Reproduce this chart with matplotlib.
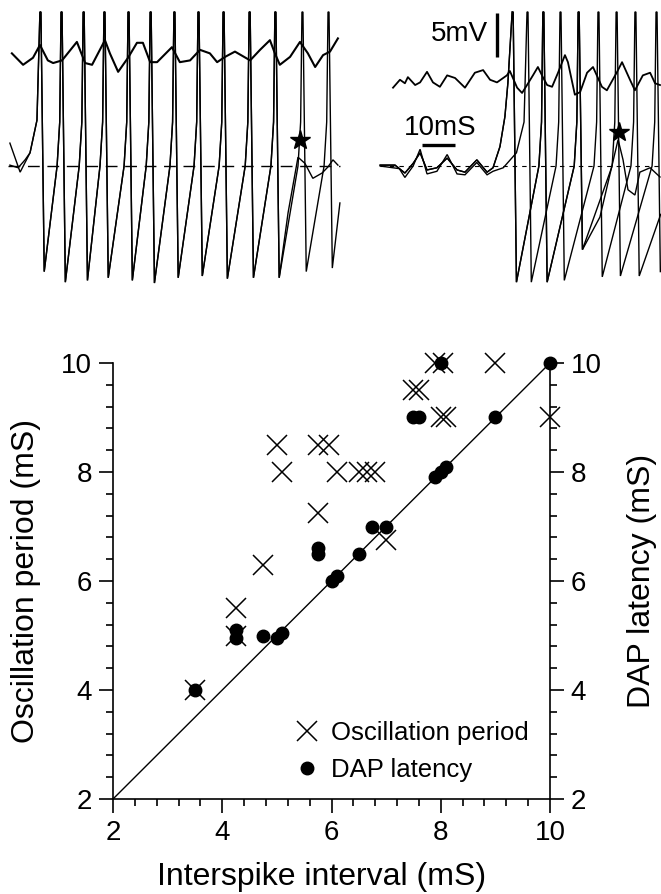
import matplotlib
matplotlib.use('Agg')
import matplotlib.pyplot as plt
from matplotlib.ticker import MultipleLocator
from matplotlib.lines import Line2D

plt.rcParams['font.family'] = ['Liberation Sans', 'DejaVu Sans']

# ---- scatter data (mS) ----
osc_isi = [3.5, 4.25, 4.25, 4.75, 5.0, 5.1, 5.75, 5.75, 5.95, 6.1, 6.5, 6.65, 6.8,
           7.0, 7.5, 7.6, 7.9, 8.05, 8.0, 8.1, 9.0, 10.0]
osc_period = [4.0, 5.5, 5.0, 6.3, 8.5, 8.0, 7.25, 8.5, 8.5, 8.0, 8.0, 8.0, 8.0,
              6.75, 9.5, 9.5, 10.0, 10.0, 9.0, 9.0, 10.0, 9.0]
dap_isi = [3.5, 4.25, 4.25, 4.75, 5.0, 5.1, 5.75, 5.75, 6.0, 6.1, 6.5, 6.75, 7.0,
           7.5, 7.6, 7.9, 8.0, 8.1, 8.0, 9.0, 10.0]
dap_latency = [4.0, 4.95, 5.1, 5.0, 4.95, 5.05, 6.5, 6.6, 6.0, 6.1, 6.5, 7.0, 7.0,
               9.0, 9.0, 7.9, 8.0, 8.1, 10.0, 9.0, 10.0]
identity = [2, 10]

# ---- traces (time in ms, voltage in mV relative to dashed line) ----
SPIKE_TOP = 17.5
left_spikes = [12.1, 18.5, 25.2, 31.5, 38.8, 45.5, 52.7, 60.0, 67.6, 75.5, 83.3, 91.5, 99.4]
left_troughs = [-12.0, -13.2, -13.0, -12.7, -13.0, -13.3, -12.7, -12.5, -12.8, -12.7,
                -12.7, -12.0, -11.6]
left_lead_a = [(3.0, 2.6), (6.1, -0.7), (9.1, 1.5), (11.2, 5.2)]
left_lead_b = [(3.0, 0.1), (5.5, -0.2), (7.6, 0.7), (9.1, 1.5), (11.2, 5.2)]
left_tail_a = [(103.0, -4.2)]
left_dap_tail = [(87.3, -5.3), (90.3, 1.0), (92.4, 0.3), (94.8, -1.4), (97.6, -0.8),
                 (99.4, -0.1), (100.9, 0.7), (102.4, 0.1)]
left_upper = [(3.6, 12.8), (7.0, 11.5), (10.0, 12.3), (12.1, 13.75), (14.5, 12.0),
              (16.1, 11.7), (18.8, 12.0), (23.3, 14.1), (25.8, 11.7), (27.9, 11.5),
              (31.8, 14.3), (33.3, 12.8), (35.8, 10.7), (38.8, 12.3), (41.5, 14.0),
              (43.3, 14.0), (45.5, 11.8), (47.6, 11.8), (52.1, 13.5), (54.5, 11.8),
              (57.6, 12.0), (60.6, 13.2), (63.6, 12.8), (65.8, 11.8), (68.2, 12.4),
              (71.2, 13.0), (75.8, 12.0), (78.8, 13.2), (81.8, 14.3), (83.3, 12.8),
              (84.8, 11.5), (87.9, 12.4), (90.9, 14.1), (93.3, 12.8), (95.5, 11.25),
              (97.9, 12.6), (100.0, 13.0), (102.4, 14.5)]

right_spikes_a = [155.2, 164.5, 175.2, 186.7, 198.8]
right_troughs_a = [-13.2, -13.2, -9.5, -12.5, -12.0]
right_spikes_b = [159.7, 169.7, 181.2, 192.4]
right_troughs_b = [-13.2, -13.0, -12.6, -12.5]
right_lead_a = [(115.2, 0.1), (119.7, 0.1), (122.7, -0.8), (125.2, 0.3), (127.3, 1.5),
                (129.4, -0.45), (132.4, -0.2), (135.5, 0.9), (138.5, -0.45),
                (140.9, -0.7), (144.5, 0.7), (147.6, -0.7), (149.4, -0.2),
                (151.5, 2.2), (153.0, 5.6), (153.9, 9.4)]
right_lead_b = [(115.2, 0.0), (121.0, -0.3), (122.7, -1.3), (125.2, 0.0), (127.3, 1.9),
                (129.4, -0.9), (132.4, -0.6), (135.5, 1.3), (138.5, -0.9),
                (140.9, -1.0), (144.5, 0.4), (147.6, -1.0), (149.4, -0.6),
                (152.5, -0.2), (156.5, 1.5), (158.8, 5.0)]
right_tail_b = [(200.2, -5.5)]
right_dap_tail = [(181.8, -5.8), (187.3, 3.0), (188.8, 0.7), (190.3, -2.7), (192.4, -3.3),
                  (193.9, -0.7), (197.0, -0.2), (200.0, -1.25)]
right_upper = [(119.1, 8.9), (121.2, 9.8), (122.7, 9.4), (123.6, 10.1), (125.8, 9.2),
               (127.3, 9.5), (129.4, 10.7), (131.2, 9.5), (133.3, 9.0), (135.5, 10.3),
               (137.9, 10.0), (140.9, 8.9), (143.9, 10.6), (146.4, 10.9), (148.5, 9.8),
               (150.6, 9.5), (153.6, 10.3), (154.5, 10.8), (156.7, 8.9), (158.2, 8.3),
               (159.7, 9.2), (161.5, 10.3), (163.0, 11.25), (164.5, 10.1), (165.8, 9.2),
               (167.3, 9.0), (169.1, 10.6), (171.2, 12.6), (172.1, 11.8), (174.2, 8.1),
               (175.8, 8.4), (177.9, 10.6), (179.7, 11.25), (182.4, 9.0), (183.9, 8.6),
               (187.0, 10.7), (188.5, 11.8), (190.9, 9.8), (192.4, 8.6), (194.8, 10.3),
               (197.0, 10.6), (198.5, 9.4), (200.0, 9.2)]
dap_stars = [(90.9, 2.95), (187.6, 3.9)]


def spike_train(lead, spikes, troughs, tail):
    t = [p[0] for p in lead]
    v = [p[1] for p in lead]
    for i, (s, tr) in enumerate(zip(spikes, troughs)):
        if i > 0:
            t += [s - 1.2, s - 0.4]
            v += [0.0, 5.0]
        t += [s, s + 0.3, s + 1.3]
        v += [SPIKE_TOP, SPIKE_TOP, tr]
    t += [p[0] for p in tail]
    v += [p[1] for p in tail]
    return t, v


fig = plt.figure(figsize=(6.61, 8.94), dpi=100)

# ---- top: recordings ----
axt = fig.add_axes([0, 1 - 300 / 894, 1, 300 / 894])
axt.set_xlim(0, 661 / 3.3)
axt.set_ylim((166 - 300) / 8.8, 166 / 8.8)
axt.axis('off')

trace_kw = dict(color='black', lw=1.0, solid_joinstyle='miter')
axt.plot(*spike_train(left_lead_a, left_spikes, left_troughs, left_tail_a), **trace_kw)
axt.plot(*spike_train(left_lead_b, left_spikes[:11], left_troughs[:11], left_dap_tail), **trace_kw)
axt.plot([p[0] for p in left_upper], [p[1] for p in left_upper], color='black', lw=1.5)

axt.plot(*spike_train(right_lead_a, right_spikes_a, right_troughs_a, []), **trace_kw)
axt.plot(*spike_train(right_lead_a, right_spikes_a[:3], right_troughs_a[:3], right_dap_tail), **trace_kw)
axt.plot(*spike_train(right_lead_b, right_spikes_b, right_troughs_b, right_tail_b), **trace_kw)
axt.plot([p[0] for p in right_upper], [p[1] for p in right_upper], color='black', lw=1.3)

axt.plot([2.4, 103], [0, 0], color='black', lw=1.0, dashes=(8.5, 5.5))
axt.plot([115, 200.3], [0, 0], color='black', lw=0.8, dashes=(4, 4.5))
axt.plot([p[0] for p in dap_stars], [p[1] for p in dap_stars], ls='none',
         marker='*', ms=15, color='black')

# scale bars
axt.plot([150.6, 150.6], [12.4, 17.4], color='black', lw=2.4, solid_capstyle='butt')
axt.text(147.8, 15.0, '5mV', fontsize=20, ha='right', va='center')
axt.plot([127.9, 137.9], [2.4, 2.4], color='black', lw=2.4, solid_capstyle='butt')
axt.text(122.5, 4.3, '10mS', fontsize=20, ha='left', va='center')

# ---- bottom: scatter ----
ax = fig.add_axes([113 / 661, 1 - 799 / 894, 437 / 661, 436 / 894])
ax.plot(identity, identity, color='black', lw=1.0)
ax.plot(osc_isi, osc_period, ls='none', marker='x', ms=14, mew=1.1, color='black',
        clip_on=False)
ax.plot(dap_isi, dap_latency, ls='none', marker='o', ms=9, color='black', clip_on=False)
ax.set_xlim(2, 10)
ax.set_ylim(2, 10)
ax.spines['top'].set_visible(False)
for s in ['left', 'bottom', 'right']:
    ax.spines[s].set_linewidth(1.2)
ax.xaxis.set_major_locator(MultipleLocator(2))
ax.xaxis.set_minor_locator(MultipleLocator(0.4))
ax.yaxis.set_major_locator(MultipleLocator(2))
ax.yaxis.set_minor_locator(MultipleLocator(0.4))
ax.tick_params(which='major', direction='out', length=10, width=1.2, labelsize=20, pad=5)
ax.tick_params(which='minor', direction='out', length=5, width=1.2)
ax.tick_params(axis='y', which='both', right=True)
ax.tick_params(axis='y', which='major', labelright=True)

fig.text(26 / 661, 1 - 581 / 894, 'Oscillation period (mS)', rotation=90,
         ha='center', va='center', fontsize=23)
fig.text(642 / 661, 1 - 581 / 894, 'DAP latency (mS)', rotation=90,
         ha='center', va='center', fontsize=23)
fig.text(322 / 661, 1 - 877 / 894, 'Interspike interval (mS)',
         ha='center', va='center', fontsize=23)

handles = [Line2D([], [], ls='none', marker='x', ms=14, mew=1.1, color='black'),
           Line2D([], [], ls='none', marker='o', ms=9, color='black')]
ax.legend(handles, ['Oscillation period', 'DAP latency'], loc='upper left',
          bbox_to_anchor=(0.414, 0.178), frameon=False, fontsize=18.5,
          borderpad=0, borderaxespad=0, handlelength=1.0, handletextpad=0.45,
          labelspacing=0.5)

fig.savefig('out.png', dpi=100)
